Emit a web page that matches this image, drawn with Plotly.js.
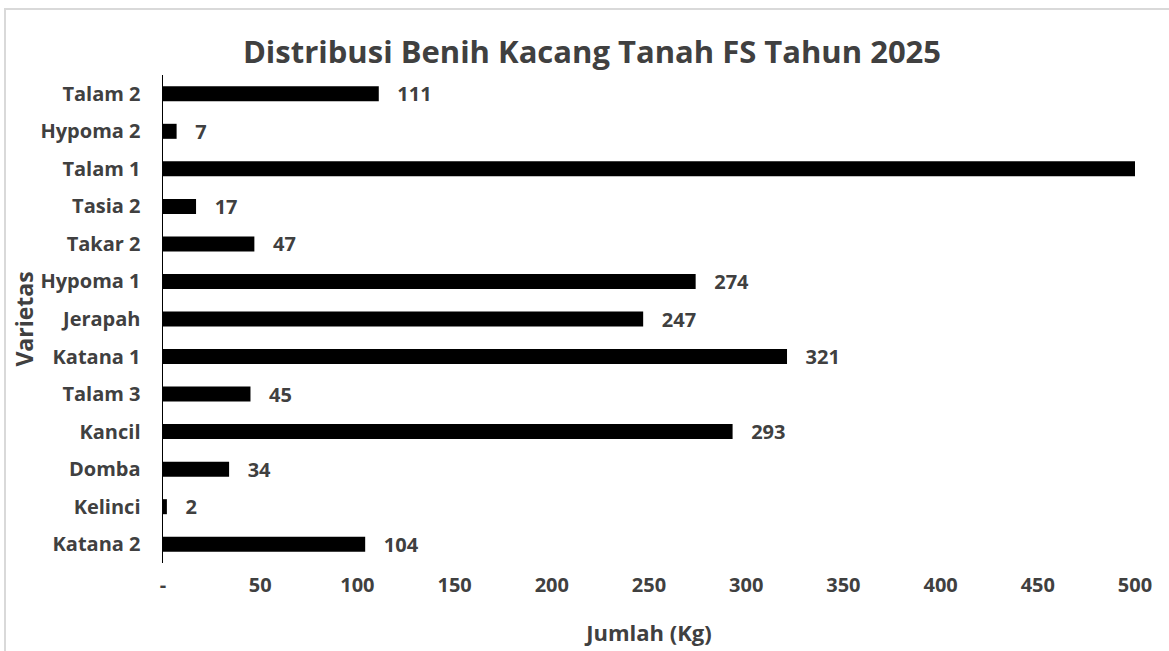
<!DOCTYPE html>
<html>
<head>
<meta charset="utf-8">
<script src="https://cdn.plot.ly/plotly-3.0.1.min.js"></script>
<style>
html,body{margin:0;padding:0;background:#fff;overflow:hidden;}
#wrap{position:relative;width:1169px;height:651px;}
#chart{position:absolute;left:0;top:0;width:1169px;height:651px;}
#frame{position:absolute;left:4px;top:8px;width:1200px;height:700px;border:2px solid #d9d9d9;pointer-events:none;}
</style>
</head>
<body>
<div id="wrap"><div id="chart"></div><div id="frame"></div></div>
<script>
const categories = ["Talam 2","Hypoma 2","Talam 1","Tasia 2","Takar 2","Hypoma 1","Jerapah","Katana 1","Talam 3","Kancil","Domba","Kelinci","Katana 2"];
const values = [111, 7, 560, 17, 47, 274, 247, 321, 45, 293, 34, 2, 104];
const tickValues = [0, 50, 100, 150, 200, 250, 300, 350, 400, 450, 500];
const tickLabels = ["-", "50", "100", "150", "200", "250", "300", "350", "400", "450", "500"];
const axisMax = 500;

const FONT = "'Open Sans', 'Noto Sans', sans-serif";
const GREY = "#404040";

const trace = {
  type: "bar",
  orientation: "h",
  y: categories,
  x: values,
  marker: {color: "#000000"},
  text: values.map(v => v > axisMax ? "" : "\u00a0\u00a0\u00a0" + v),
  textposition: "outside",
  constraintext: "none",
  textfont: {family: FONT, size: 20, color: GREY, weight: "bold"},
  cliponaxis: true,
  hoverinfo: "none"
};

const layout = {
  width: 1169, height: 651,
  paper_bgcolor: "#ffffff", plot_bgcolor: "#ffffff",
  margin: {l: 163, r: 34, t: 75, b: 88},
  bargap: 0.6,
  showlegend: false,
  font: {family: FONT, color: GREY},
  title: {
    text: "<b>Distribusi Benih Kacang Tanah FS Tahun 2025</b>",
    font: {family: FONT, size: 31, color: GREY},
    x: 592/1169, xanchor: "center", xref: "container",
    y: 1 - 52/651, yanchor: "middle", yref: "container"
  },
  xaxis: {
    range: [0, axisMax],
    tickmode: "array", tickvals: tickValues, ticktext: tickLabels,
    tickfont: {family: FONT, size: 20, color: GREY, weight: "bold"},
    showgrid: false, zeroline: false, showline: false, ticks: "",
    ticklabelstandoff: 8,
    title: {text: "<b>Jumlah (Kg)</b>", font: {family: FONT, size: 22, color: GREY}, standoff: 28}
  },
  yaxis: {
    autorange: "reversed",
    type: "category",
    tickfont: {family: FONT, size: 20, color: GREY, weight: "bold"},
    showgrid: false, zeroline: false,
    showline: true, linecolor: "#000000", linewidth: 1.5,
    ticks: "", ticklabelstandoff: 17,
    title: {text: "<b>Varietas</b>", font: {family: FONT, size: 23, color: GREY}, standoff: 0}
  }
};

Plotly.newPlot("chart", [trace], layout, {displayModeBar: false, staticPlot: true});
</script>
</body>
</html>
